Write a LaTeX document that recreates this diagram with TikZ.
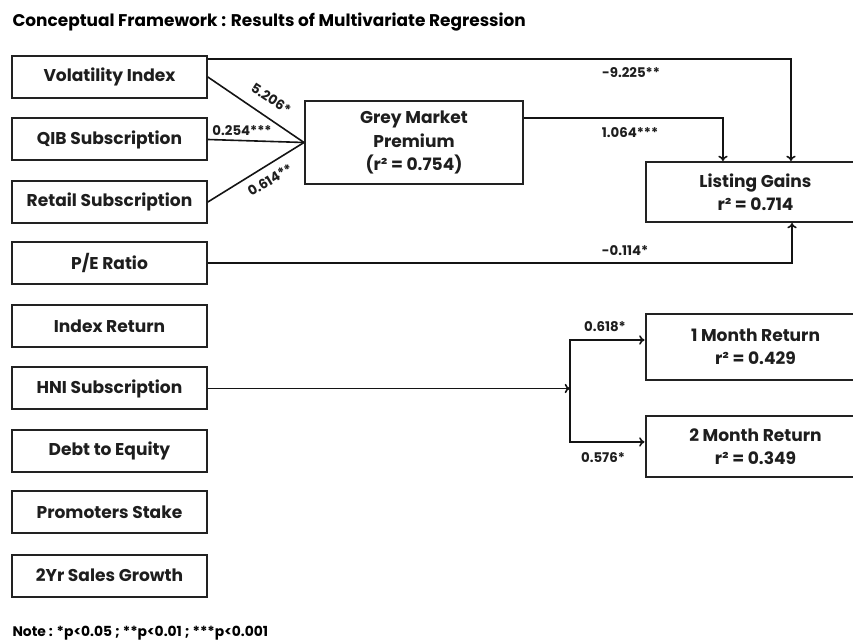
\documentclass[tikz,border=0pt]{standalone}
\usepackage{fontspec}
\setmainfont{Poppins}
\usetikzlibrary{arrows.meta}

\tikzset{every picture/.style={line width=0.75pt}}
\tikzset{
	varbox/.style={draw={rgb, 255:red, 34; green, 34; blue, 34}, line width=1.5pt, minimum width=146pt, minimum height=31.5pt, inner sep=2pt, align=center, text={rgb, 255:red, 30; green, 30; blue, 30}, font=\fontsize{12.8}{17.6}\selectfont\bfseries},
	outbox/.style={varbox, minimum width=165pt},
	link/.style={draw={rgb, 255:red, 20; green, 20; blue, 20}, line width=1.2pt},
	arr/.style={link, -{To[length=4pt,width=7pt]}},
	coef/.style={inner sep=1.5pt, text={rgb, 255:red, 30; green, 30; blue, 30}, font=\fontsize{10}{11}\selectfont\bfseries}
}

\begin{document}
\begin{tikzpicture}[x=0.75pt,y=0.75pt,yscale=-1,xscale=1]
	\useasboundingbox (0,0) rectangle (853,641);

	% Title
	\node [anchor=base west, inner sep=0pt, font=\fontsize{12.7}{15}\selectfont\bfseries] (title) at (12,27) {Conceptual Framework : Results of Multivariate Regression};

	%Shape: Rectangle -- predictors
	\node [varbox] (vol) at (109.5,77) {Volatility Index};
	\node [varbox] (qib) at (109.5,139.5) {QIB Subscription};
	\node [varbox] (retail) at (109.5,202) {Retail Subscription};
	\node [varbox] (pe) at (109.5,263) {P/E Ratio};
	\node [varbox] (idx) at (109.5,326) {Index Return};
	\node [varbox] (hni) at (109.5,388.5) {HNI Subscription};
	\node [varbox] (de) at (109.5,451) {Debt to Equity};
	\node [varbox] (prom) at (109.5,512) {Promoters Stake};
	\node [varbox] (sales) at (109.5,575.5) {2Yr Sales Growth};

	%Shape: Rectangle -- mediator and outcomes
	\node [varbox, minimum width=163.5pt, minimum height=62.25pt] (gmp) at (414,142.5) {Grey Market\\Premium\\(r² = 0.754)};
	\node [outbox, minimum height=45pt] (lg) at (755.5,192) {Listing Gains\\r² = 0.714};
	\node [outbox, minimum height=49.5pt] (m1) at (755.5,347) {1 Month Return\\r² = 0.429};
	\node [outbox, minimum height=45.75pt] (m2) at (755.5,446.5) {2 Month Return\\r² = 0.349};

	% paths into grey market premium
	\draw [link] (vol.east) -- (gmp.west);
	\draw [link] (qib.east) -- (gmp.west);
	\draw [link] (retail.east) -- (gmp.west);

	% paths into listing gains (yscale=-1, so a positive yshift goes down)
	\draw [arr] ([yshift=3pt]vol.north east) -| ([xshift=26.6pt]lg.north);
	\draw [arr] ([yshift=-18.4pt]gmp.east) -| ([xshift=-24.4pt]lg.north);
	\draw [arr] (pe.east) -| ([xshift=27.4pt]lg.south);

	% HNI split to returns
	\coordinate (split) at (570,388.5);
	\draw [arr] (hni.east) -- (split);
	\draw [arr] (split) |- ([yshift=-5.25pt]m1.west);
	\draw [arr] (split) |- ([yshift=-3.4pt]m2.west);

	% Text Node -- coefficients
	\node [coef, rotate=-33.5] (c1) at (271,99) {5.206*};
	\node [coef] (c2) at (242,131) {0.254***};
	\node [coef, rotate=31] (c3) at (270,180) {0.614**};
	\node [coef] (c4) at (631,73) {-9.225**};
	\node [coef] (c5) at (630,133) {1.064***};
	\node [coef] (c6) at (625,251) {-0.114*};
	\node [coef] (c7) at (605,327) {0.618*};
	\node [coef] (c8) at (603,458) {0.576*};

	% Note
	\node [anchor=base west, inner sep=0pt, font=\fontsize{10.4}{12}\selectfont\bfseries] (note) at (12,636) {Note : *p<0.05 ; **p<0.01 ; ***p<0.001};

\end{tikzpicture}
\end{document}
